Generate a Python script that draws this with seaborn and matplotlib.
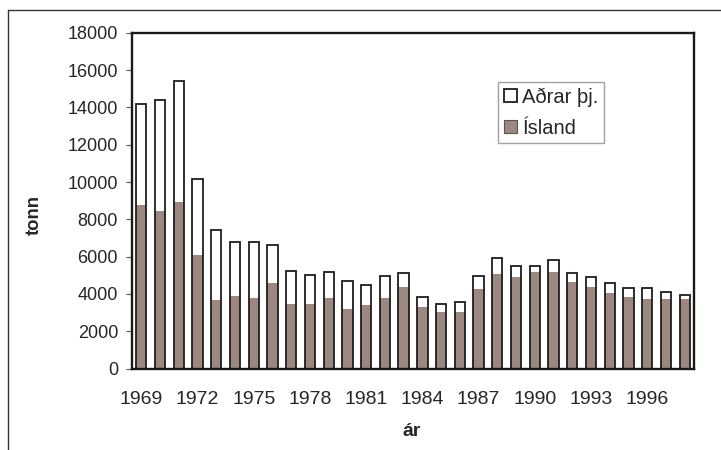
import numpy as np
import pandas as pd
import matplotlib
matplotlib.use("Agg")
import matplotlib.pyplot as plt
import matplotlib.lines as mlines
from matplotlib.patches import Patch
import seaborn as sns

years = list(range(1969, 1999))
# total catch (all nations) and Iceland's share, tonnes
total = [14200, 14400, 15400, 10140, 7430, 6770, 6770, 6610, 5210, 5020,
         5200, 4680, 4500, 4960, 5140, 3860, 3460, 3570, 4960, 5910,
         5520, 5520, 5820, 5140, 4890, 4570, 4300, 4300, 4090, 3950]
island = [8750, 8450, 8930, 6090, 3680, 3890, 3790, 4590, 3450, 3460,
          3800, 3200, 3410, 3800, 4375, 3300, 3040, 3040, 4270, 5070,
          4910, 5180, 5180, 4640, 4375, 4050, 3840, 3730, 3730, 3730]
yticks = list(range(0, 18001, 2000))

df = pd.DataFrame({"year": [str(y) for y in years], "total": total, "island": island})

sns.set_style("white")
plt.rcParams["font.family"] = ["Liberation Sans", "DejaVu Sans"]

brown = "#9c8881"
fig = plt.figure(figsize=(7.21, 4.5), dpi=100)
ax = fig.add_axes([0.183, 0.181, 0.7796, 0.7459])

w = 0.55
sns.barplot(data=df, x="year", y="total", color="white", width=w,
            saturation=1, linewidth=0, ax=ax)
sns.barplot(data=df, x="year", y="island", color=brown, width=w,
            saturation=1, linewidth=0, ax=ax)
sns.barplot(data=df, x="year", y="total", width=w, fill=False, color="#1e1e1e",
            linewidth=1.3, ax=ax)

ax.set_xlim(-0.5, len(years) - 0.5)
ax.set_ylim(0, 18000)
ax.set_yticks(yticks)
ax.set_yticklabels([str(v) for v in yticks], fontsize=13)
ax.set_xticks(range(0, len(years), 3))
ax.set_xticklabels([str(y) for y in years[::3]], fontsize=14)
ax.set_xticks(np.arange(-0.5, len(years), 1), minor=True)
ax.tick_params(axis="x", which="major", length=0, pad=16)
ax.tick_params(axis="x", which="minor", length=5, width=0.8, color="#555", direction="out")
ax.tick_params(axis="y", length=4, width=0.8, color="#555", direction="out", pad=6, left=True)

for s in ax.spines.values():
    s.set_color("#1a1a1a")
    s.set_linewidth(1.7)

ax.set_xlabel("")
ax.set_ylabel("")
fig.text(34 / 721, 1 - 215 / 450, "tonn", rotation=90, ha="center", va="center",
         fontsize=13.3, fontweight="bold")
fig.text(412 / 721, 1 - 432 / 450, "ár", ha="center", va="center",
         fontsize=14, fontweight="bold")

handles = [Patch(facecolor="white", edgecolor="#1e1e1e", linewidth=1.3, label="Aðrar þj."),
           Patch(facecolor=brown, edgecolor="#555", linewidth=0.8, label="Ísland")]
leg = ax.legend(handles=handles, loc="upper left", bbox_to_anchor=(0.652, 0.855),
                fontsize=14.5, frameon=True, fancybox=False, edgecolor="#888",
                handlelength=0.65, handleheight=0.65, handletextpad=0.25,
                borderpad=0.28, labelspacing=0.6, borderaxespad=0)
leg.get_frame().set_linewidth(1.0)

# outer frame of the figure
fig.add_artist(mlines.Line2D([8 / 721, 1.0], [1 - 10 / 450, 1 - 10 / 450],
                             transform=fig.transFigure, color="#333", linewidth=1.0))
fig.add_artist(mlines.Line2D([8 / 721, 8 / 721], [0.0, 1 - 10 / 450],
                             transform=fig.transFigure, color="#333", linewidth=1.0))

fig.savefig("out.png", dpi=100)
